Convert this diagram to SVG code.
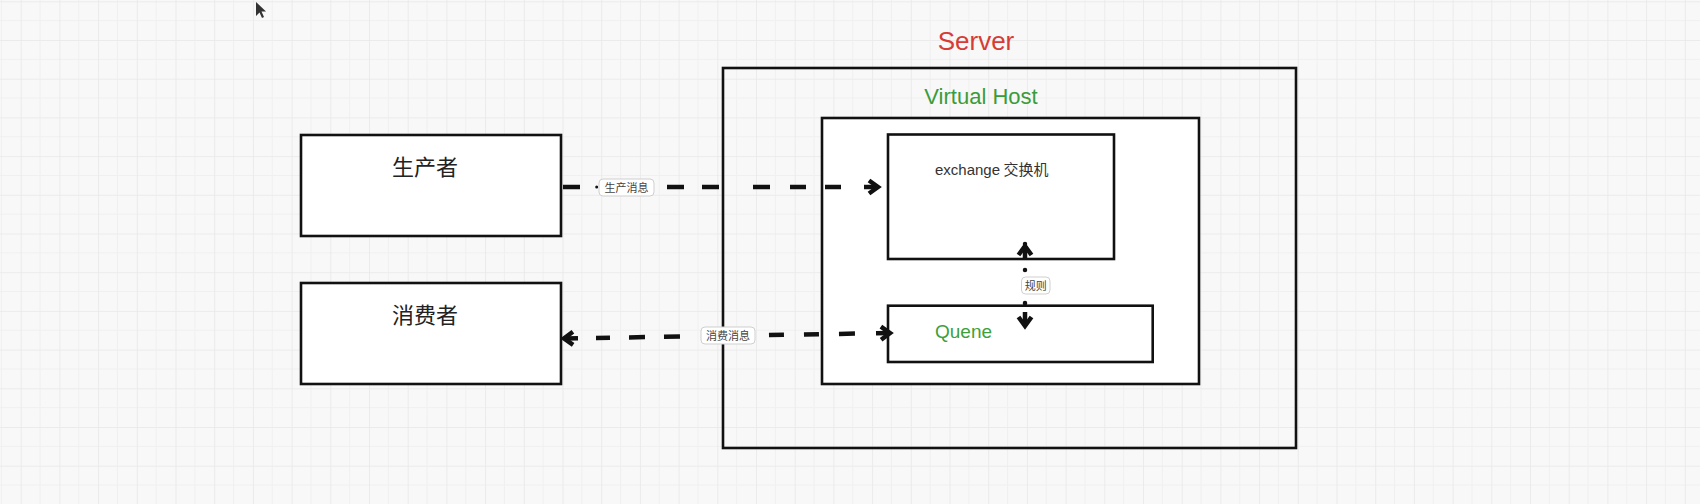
<svg xmlns="http://www.w3.org/2000/svg" width="1700" height="504" viewBox="0 0 1700 504">
<style>
.box{fill:#fff;stroke:#111;stroke-width:2.6}
.frame{fill:none;stroke:#111;stroke-width:2.6}
.cjk{font-family:"Noto Sans CJK SC","Noto Sans",sans-serif}
.big{font-size:22px;fill:#222;text-anchor:middle}
.lab{font-size:11px;fill:#444;text-anchor:middle}
.lbox{fill:#fff;stroke:#cfcfcf;stroke-width:1}
.conn{fill:none;stroke:#111;stroke-width:4.5}
</style>
<defs>
<pattern id="grid" x="20.7" y="1.3" width="38.7" height="38.7" patternUnits="userSpaceOnUse">
<path d="M0,19.35 H38.7 M19.35,0 V38.7" stroke="#f0f0f0" stroke-width="1.2" fill="none"/>
<path d="M0,0 H38.7 M0,0 V38.7" stroke="#e8e8e8" stroke-width="1.6" fill="none"/>
</pattern>
<marker id="arr" markerUnits="userSpaceOnUse" viewBox="-18 -10 20 20" markerWidth="20" markerHeight="20" refX="0" refY="0" orient="auto-start-reverse">
<path d="M-16,0 H-2" stroke="#111" stroke-width="4.5"/>
<path d="M-11,-6.5 L-2,0 L-11,6.5" stroke="#111" stroke-width="4.5" fill="none" stroke-linejoin="miter"/>
</marker>
</defs>
<rect width="1700" height="504" fill="#f8f8f8"/>
<rect width="1700" height="504" fill="url(#grid)"/>
<path d="M256,2 L256,16 L259.5,12.5 L262,18 L264,17 L261.5,11.5 L266,11.5 Z" fill="#111" opacity="0.85"/>

<g id="server">
<rect class="frame" x="723" y="68" width="573" height="380"/>
<text x="976" y="49.5" font-family="Liberation Sans, Arial, sans-serif" font-size="26" fill="#d63c35" text-anchor="middle">Server</text>
</g>
<g id="virtual-host">
<rect class="box" x="822" y="118" width="377" height="266"/>
<text x="981" y="104" font-family="Liberation Sans, Arial, sans-serif" font-size="22" fill="#3a9c3a" text-anchor="middle">Virtual Host</text>
</g>
<g id="exchange">
<rect class="box" x="888" y="134.5" width="226" height="124.5"/>
<text x="935" y="175" class="cjk" font-size="15" fill="#333"><tspan font-family="Liberation Sans, Arial, sans-serif">exchange</tspan> 交换机</text>
</g>
<g id="quene">
<rect class="box" x="888" y="305.7" width="264.7" height="56.3"/>
<text x="935" y="338" font-family="Liberation Sans, Arial, sans-serif" font-size="19" fill="#3da03a">Quene</text>
</g>
<g id="producer">
<rect class="box" x="301" y="135" width="260" height="101"/>
<text x="425" y="175" class="cjk big">生产者</text>
</g>
<g id="consumer">
<rect class="box" x="301" y="283" width="260" height="101"/>
<text x="425" y="323" class="cjk big">消费者</text>
</g>

<g id="connectors">
<path class="conn" d="M563,187 H880" marker-end="url(#arr)" stroke-dasharray="17 87 17 18 17 34 17 20 16 19 16 100"/>
<circle cx="596.7" cy="187" r="1.5" fill="#111"/>
<rect class="lbox" x="599" y="179" width="55" height="17" rx="4"/>
<text x="626.5" y="191.5" class="cjk lab">生产消息</text>

<path class="conn" d="M562,338.5 L892,333" marker-start="url(#arr)" marker-end="url(#arr)" stroke-dasharray="0 34 14 19 16 19 16 89 15 20 15 20 16 100"/>
<rect class="lbox" x="701" y="327" width="54" height="17" rx="4"/>
<text x="728" y="339.5" class="cjk lab">消费消息</text>

<path d="M1025,244 V328" fill="none" stroke="#111" stroke-width="4.5" stroke-dasharray="0 26 0.1 33 0.1 100" stroke-linecap="round" marker-start="url(#arr)" marker-end="url(#arr)"/>
<rect class="lbox" x="1021.5" y="277" width="28.5" height="17" rx="4"/>
<text x="1035.7" y="289.5" class="cjk lab">规则</text>
</g>
</svg>
